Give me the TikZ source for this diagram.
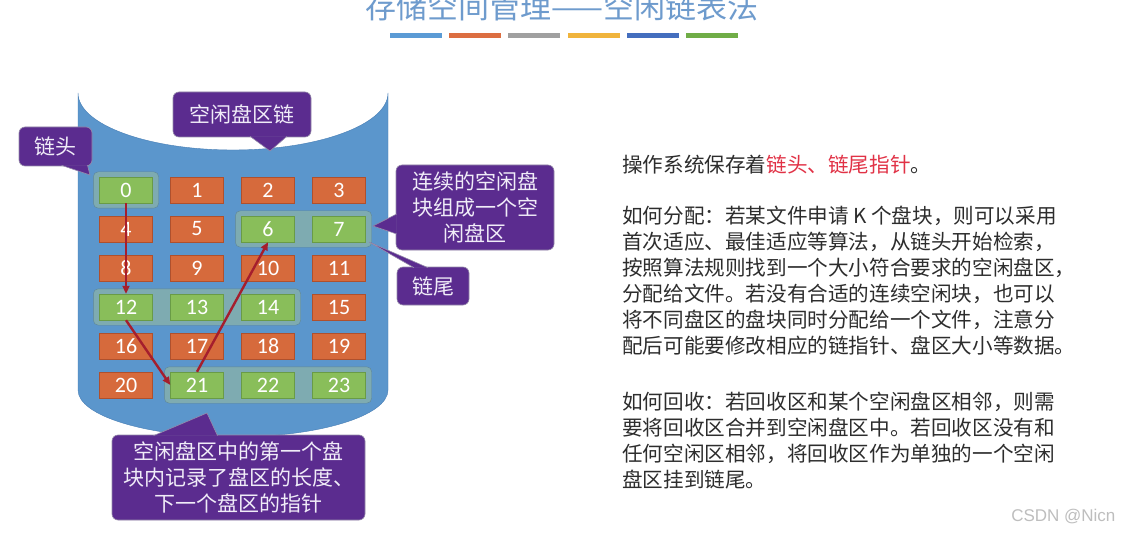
\documentclass[tikz,border=0pt]{standalone}
\usepackage{fontspec}
\setmainfont{Noto Sans CJK SC}
\newfontfamily\numfont{Carlito}
\newfontfamily\markfont{Liberation Sans}
\usetikzlibrary{positioning, arrows.meta, fit}
\definecolor{titleblue}{RGB}{110,155,205}
\definecolor{barA}{RGB}{91,155,213}
\definecolor{barB}{RGB}{220,110,65}
\definecolor{barC}{RGB}{160,160,160}
\definecolor{barD}{RGB}{240,180,60}
\definecolor{barE}{RGB}{68,110,190}
\definecolor{barF}{RGB}{112,173,71}
\definecolor{diskblue}{RGB}{91,150,204}
\definecolor{diskline}{RGB}{70,125,180}
\definecolor{usedfill}{RGB}{214,106,60}
\definecolor{usedline}{RGB}{175,80,45}
\definecolor{freefill}{RGB}{137,190,90}
\definecolor{freeline}{RGB}{105,155,70}
\definecolor{areafill}{RGB}{150,185,160}
\definecolor{arealine}{RGB}{95,135,150}
\definecolor{linkred}{RGB}{165,30,45}
\definecolor{tagfill}{RGB}{91,44,143}
\definecolor{tagline}{RGB}{150,140,170}
\definecolor{tagtext}{RGB}{240,236,248}
\definecolor{bodygray}{RGB}{45,45,45}
\definecolor{keyred}{RGB}{225,50,70}
\definecolor{markgray}{RGB}{190,190,190}
\pgfdeclarelayer{back}
\pgfdeclarelayer{mid}
\pgfsetlayers{back,mid,main}

\begin{document}
\begin{tikzpicture}[
        x=1pt, y=-1pt,
        usedblk/.style={draw=usedline, fill=usedfill, text=white, font=\numfont\fontsize{22}{22}\selectfont, minimum width=53pt, minimum height=26pt, inner sep=0pt},
        freeblk/.style={usedblk, draw=freeline, fill=freefill},
        area/.style={draw=arealine, fill=areafill, fill opacity=0.6, rounded corners=5pt, inner xsep=6pt, inner ysep=5pt},
        tag/.style={draw=tagline, line width=0.6pt, fill=tagfill, text=tagtext, rounded corners=6pt, align=center, font=\fontsize{21}{26}\selectfont, inner sep=0pt},
        pointer/.style={draw=tagline, line width=0.6pt, fill=tagfill},
        link/.style={-{Triangle[length=8pt,width=7pt]}, line width=2.4pt, draw=linkred},
        body/.style={font=\fontsize{20.6}{26}\selectfont, text=bodygray, align=left, inner sep=0pt}
    ]
    \clip (0,0) rectangle (1123,537);

    % Title
    \node[font=\fontsize{31}{31}\selectfont, text=titleblue] (title) at (562,7) {存储空间管理——空闲链表法};
    \foreach \c [count=\i from 0] in {barA,barB,barC,barD,barE,barF}
        \fill[\c] ({390+59.2*\i},33) rectangle +(52,5);

    % Disk
    \begin{pgfonlayer}{back}
        \fill[white] (0,0) rectangle (1123,537);
        \draw[diskline, fill=diskblue] (78,93) -- (78,390) arc[start angle=180, end angle=0, x radius=155, y radius=47]
            -- (388,93) arc[start angle=0, end angle=180, x radius=155, y radius=57] -- cycle;
    \end{pgfonlayer}

    % Blocks
    \foreach \n/\s in {0/freeblk,1/usedblk,2/usedblk,3/usedblk,4/usedblk,5/usedblk,6/freeblk,7/freeblk,
                       8/usedblk,9/usedblk,10/usedblk,11/usedblk,12/freeblk,13/freeblk,14/freeblk,15/usedblk,
                       16/usedblk,17/usedblk,18/usedblk,19/usedblk,20/usedblk,21/freeblk,22/freeblk,23/freeblk}{
        \pgfmathtruncatemacro{\blkcol}{mod(\n,4)}
        \pgfmathtruncatemacro{\blkrow}{div(\n,4)}
        \node[\s] (b\n) at ({126+71*\blkcol},{190+39*\blkrow}) {\n};
    }

    % Free runs
    \begin{pgfonlayer}{mid}
        \node[area, fit=(b0)] (run0) {};
        \node[area, fit=(b6)(b7)] (run6) {};
        \node[area, fit=(b12)(b14)] (run12) {};
        \node[area, fit=(b21)(b23)] (run21) {};
    \end{pgfonlayer}

    % Links
    \draw[link] (b0.south) -- (b12.north);
    \draw[link] (b12.south) -- (b21.west);
    \draw[link] (b21.north) -- (b6.south);

    % Labels
    \node[tag, minimum width=138pt, minimum height=45pt] (chainlbl) at (242,114.5) {空闲盘区链};
    \coordinate (chaintip) at (270,151);
    \draw[pointer] ([xshift=8pt, yshift=1pt]chainlbl.south) -- (chaintip) -- ([xshift=45pt, yshift=1pt]chainlbl.south);

    \node[tag, minimum width=73pt, minimum height=39pt] (headlbl) at (55.5,146.5) {链头};
    \coordinate (headtip) at (90,175);
    \draw[pointer] ([xshift=6pt, yshift=1pt]headlbl.south) -- (headtip) -- ([xshift=32pt, yshift=1pt]headlbl.south);

    \node[tag, minimum width=158pt, minimum height=85pt] (arealbl) at (475,207.5) {连续的空闲盘\\块组成一个空\\闲盘区};
    \coordinate (areatip) at (373,226);
    \draw[pointer] ([xshift=1pt, yshift=-6.5pt]arealbl.west) -- (areatip) -- ([xshift=1pt, yshift=-26.5pt]arealbl.west);

    \node[tag, minimum width=72pt, minimum height=38pt] (taillbl) at (433,286) {链尾};
    \coordinate (tailtip) at (369,242);
    \draw[pointer] ([xshift=-19pt, yshift=-1pt]taillbl.north) -- (tailtip) -- ([xshift=-5pt, yshift=-1pt]taillbl.north);

    \node[tag, minimum width=253pt, minimum height=85pt] (notelbl) at (238.5,477.5) {空闲盘区中的第一个盘\\块内记录了盘区的长度、\\下一个盘区的指针};
    \coordinate (notetip) at (207,413);
    \draw[pointer] ([xshift=-85pt, yshift=-1pt]notelbl.north) -- (notetip) -- ([xshift=-21pt, yshift=-1pt]notelbl.north);

    % Text
    \node[body, anchor=base west] (keep) at (622,173) {操作系统保存着\textcolor{keyred}{链头、链尾指针}。};
    \node[body, anchor=north west] (alloc) at (622,206) {如何分配：若某文件申请 K 个盘块，则可以采用\\首次适应、最佳适应等算法，从链头开始检索，\\按照算法规则找到一个大小符合要求的空闲盘区，\\分配给文件。若没有合适的连续空闲块，也可以\\将不同盘区的盘块同时分配给一个文件，注意分\\配后可能要修改相应的链指针、盘区大小等数据。};
    \node[body, anchor=north west] (reclaim) at (622,392) {如何回收：若回收区和某个空闲盘区相邻，则需\\要将回收区合并到空闲盘区中。若回收区没有和\\任何空闲区相邻，将回收区作为单独的一个空闲\\盘区挂到链尾。};
    \node[font=\markfont\fontsize{17}{17}\selectfont, text=markgray, anchor=east] (mark) at (1119,517) {CSDN @Nicn};
\end{tikzpicture}
\end{document}
